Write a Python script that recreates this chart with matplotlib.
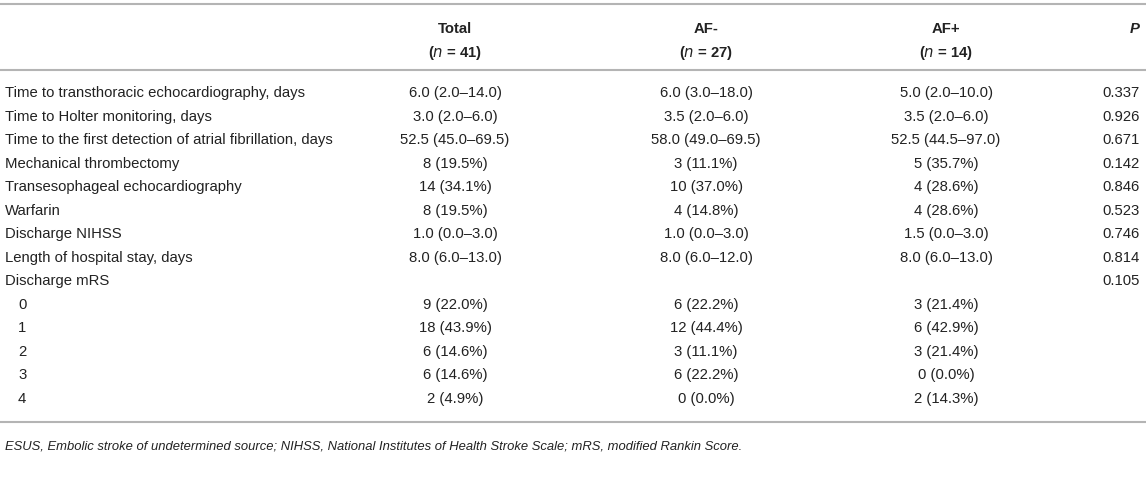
import matplotlib
matplotlib.use("Agg")
import matplotlib.pyplot as plt

plt.rcParams['font.family'] = ['Liberation Sans', 'DejaVu Sans']

col_headers = ["Total", "AF-", "AF+"]
col_n = ["41", "27", "14"]

labels = [
    "Time to transthoracic echocardiography, days",
    "Time to Holter monitoring, days",
    "Time to the first detection of atrial fibrillation, days",
    "Mechanical thrombectomy",
    "Transesophageal echocardiography",
    "Warfarin",
    "Discharge NIHSS",
    "Length of hospital stay, days",
    "Discharge mRS",
    "0", "1", "2", "3", "4",
]
indented = [False] * 9 + [True] * 5

total = ["6.0 (2.0\u201314.0)", "3.0 (2.0\u20136.0)", "52.5 (45.0\u201369.5)", "8 (19.5%)",
         "14 (34.1%)", "8 (19.5%)", "1.0 (0.0\u20133.0)", "8.0 (6.0\u201313.0)", "",
         "9 (22.0%)", "18 (43.9%)", "6 (14.6%)", "6 (14.6%)", "2 (4.9%)"]
af_neg = ["6.0 (3.0\u201318.0)", "3.5 (2.0\u20136.0)", "58.0 (49.0\u201369.5)", "3 (11.1%)",
          "10 (37.0%)", "4 (14.8%)", "1.0 (0.0\u20133.0)", "8.0 (6.0\u201312.0)", "",
          "6 (22.2%)", "12 (44.4%)", "3 (11.1%)", "6 (22.2%)", "0 (0.0%)"]
af_pos = ["5.0 (2.0\u201310.0)", "3.5 (2.0\u20136.0)", "52.5 (44.5\u201397.0)", "5 (35.7%)",
          "4 (28.6%)", "4 (28.6%)", "1.5 (0.0\u20133.0)", "8.0 (6.0\u201313.0)", "",
          "3 (21.4%)", "6 (42.9%)", "3 (21.4%)", "0 (0.0%)", "2 (14.3%)"]
p_vals = ["0.337", "0.926", "0.671", "0.142", "0.846", "0.523", "0.746", "0.814", "0.105",
          "", "", "", "", ""]

footnote = ("ESUS, Embolic stroke of undetermined source; NIHSS, National Institutes of "
            "Health Stroke Scale; mRS, modified Rankin Score.")

W, H = 1146, 486
fig = plt.figure(figsize=(W / 100, H / 100), dpi=100)
ax = fig.add_axes([0, 0, 1, 1])
ax.set_xlim(0, W)
ax.set_ylim(H, 0)
ax.axis("off")

fs = 10.7
txt_color = "#222222"
line_color = "#b4b4b4"

col_x = [455, 706, 946]
p_x = 1140

# rules
for y in (4, 70, 422):
    ax.plot([0, W], [y, y], color=line_color, lw=1.5, solid_capstyle="butt")

# header
for x, h, n in zip(col_x, col_headers, col_n):
    ax.text(x, 29, h, ha="center", va="center", fontsize=fs, fontweight="bold", color=txt_color)
    ax.text(x, 53, "(" + r"$\mathbf{\it{n}}$" + " = " + n + ")", ha="center", va="center",
            fontsize=fs, fontweight="bold", color=txt_color)
ax.text(p_x, 29, "P", ha="right", va="center", fontsize=fs, fontweight="bold",
        fontstyle="italic", color=txt_color)

y0, dy = 93, 23.5
for i, lab in enumerate(labels):
    y = y0 + i * dy
    ax.text(18 if indented[i] else 5, y, lab, ha="left", va="center", fontsize=fs, color=txt_color)
    for x, vals in zip(col_x, (total, af_neg, af_pos)):
        if vals[i]:
            ax.text(x, y, vals[i], ha="center", va="center", fontsize=fs, color=txt_color)
    if p_vals[i]:
        ax.text(p_x, y, p_vals[i], ha="right", va="center", fontsize=fs, color=txt_color)

ax.text(5, 446, footnote, ha="left", va="center", fontsize=9.4, fontstyle="italic",
        color=txt_color)

fig.savefig("out.png", dpi=100)
